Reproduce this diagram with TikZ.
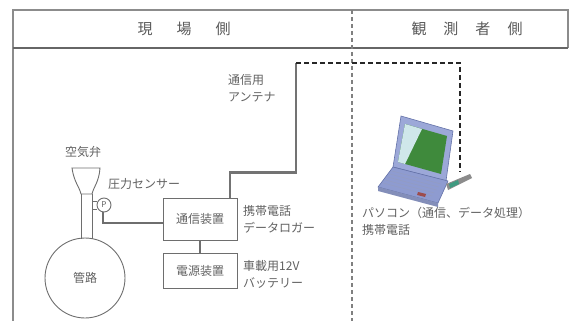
\documentclass[tikz,border=0pt]{standalone}
\usepackage{fontspec}
\newfontfamily\jp{Noto Sans CJK JP}
\usetikzlibrary{calc}
\definecolor{txtgray}{HTML}{616161}
\definecolor{linegray}{HTML}{6E6E6E}
\definecolor{framegray}{HTML}{8C8C8C}
\definecolor{lidblue}{HTML}{9CA8D8}
\definecolor{lidedge}{HTML}{6472A8}
\definecolor{screengreen}{HTML}{3F8A3C}
\definecolor{glare}{HTML}{CFE7EA}
\definecolor{deckblue}{HTML}{8E9BD0}
\definecolor{cardgreen}{HTML}{3E9A80}
\begin{document}
\begin{tikzpicture}[x=1pt,y=-1pt,
  lbl/.style={font=\jp\fontsize{12}{17}\selectfont, text=txtgray, inner sep=0pt, anchor=west, align=left},
  hdr/.style={font=\jp\fontsize{15}{17}\selectfont, text=black!65, inner sep=0pt},
  devbox/.style={draw=linegray, line width=1pt, minimum width=74pt, font=\jp\fontsize{12}{14}\selectfont, text=txtgray, inner sep=0pt},
  pipeline/.style={draw=linegray, line width=0.9pt},
  wire/.style={draw=linegray, line width=1.3pt},
  antline/.style={draw=black!55, line width=2.6pt},
  radiolink/.style={draw=black!85, line width=2pt, dash pattern=on 5pt off 3pt}]
\useasboundingbox (0,0) rectangle (571,321);

% frame and header
\draw[framegray, line width=1.5pt] (13,321) -- (13,10) -- (568,10) -- (568,48);
\draw[black!60, line width=2pt] (13,48) -- (568,48);
\draw[black!50, line width=1.1pt, dash pattern=on 4pt off 3pt] (352,10) -- (352,321);
\node[hdr] (site) at (184,29) {現\hspace{24pt}場\hspace{24pt}側};
\node[hdr] (observer) at (467,29) {観\hspace{17pt}測\hspace{17pt}者\hspace{17pt}側};

% pipe with air valve
\node[draw=linegray, line width=0.9pt, circle, minimum size=80pt, inner sep=0pt,
      font=\jp\fontsize{12}{14}\selectfont, text=txtgray] (pipe) at (85,278) {管路};
\draw[pipeline] (72,168) -- (100,168) .. controls (99,182) and (94,186) .. (92,194)
  -- (81,194) .. controls (79,186) and (74,182) .. (72,168) -- cycle;
\draw[pipeline] (81,194) -- (81,239);
\draw[pipeline] (92,194) -- (92,239);
\node[lbl] (valvelbl) at (65,152) {空気弁};

% pressure sensor
\node[draw=linegray, line width=0.9pt, circle, minimum size=14pt, inner sep=0pt,
      font=\jp\fontsize{8}{9}\selectfont, text=txtgray] (gauge) at (104,205) {P};
\draw[pipeline] (92,201) -- (gauge.west |- 0,201);
\draw[pipeline] (92,209) -- (gauge.west |- 0,209);
\node[lbl] (sensorlbl) at (108,184) {圧力センサー};

% devices
\node[devbox, minimum height=42pt] (comm) at (200,219) {通信装置};
\node[devbox, minimum height=35pt] (power) at (200,270.5) {電源装置};
\draw[wire] ([xshift=-1pt]gauge.south) |- ([yshift=-4pt]comm.west);
\draw[wire] (comm.south) -- (power.north);
\node[lbl] (commlbl) at (243,219.5) {携帯電話\\データロガー};
\node[lbl] (powerlbl) at (243,274.5) {車載用12V\\バッテリー};

% antenna and radio link
\coordinate (antTop) at (296,63);
\coordinate (card) at (460,172);
\draw[antline] ([xshift=30pt]comm.north) -- ++(0,-25) -| (antTop);
\node[lbl] (antlbl) at (228,88.5) {通信用\\アンテナ};
\draw[radiolink] (antTop) -| (card);

% notebook computer with PC card
\fill[lidblue, draw=lidedge, line width=0.6pt] (401,116) -- (453,131) -- (446,181) -- (393,167) -- cycle;
\fill[screengreen] (405,124) -- (447,136) -- (441,174) -- (398,162) -- cycle;
\fill[glare] (405,124) -- (422,129) -- (405,164) -- (398,162) -- cycle;
\fill[deckblue, draw=lidedge, line width=0.6pt] (393,167) -- (448,181) -- (438,203) -- (378,187) -- cycle;
\fill[lidedge!80] (378,187) -- (438,203) -- (438,207) -- (378,191) -- cycle;
\foreach \k in {0,...,4}
  \draw[lidedge!70, line width=0.5pt] ($(392,171)+(\k*-2.2,\k*3)$) -- ($(441,184)+(\k*-2.2,\k*3)$);
\fill[red!45!black!70] (418,192) -- (426,194) -- (425,197) -- (417,195) -- cycle;
\fill[black!45] (446,184) -- (470,174) -- (472,178) -- (448,190) -- cycle;
\fill[cardgreen] (449,184) -- (458,180) -- (459,184) -- (450,188) -- cycle;

\node[lbl] (pclbl) at (362,221.5) {パソコン（通信、データ処理）\\携帯電話};
\end{tikzpicture}
\end{document}
